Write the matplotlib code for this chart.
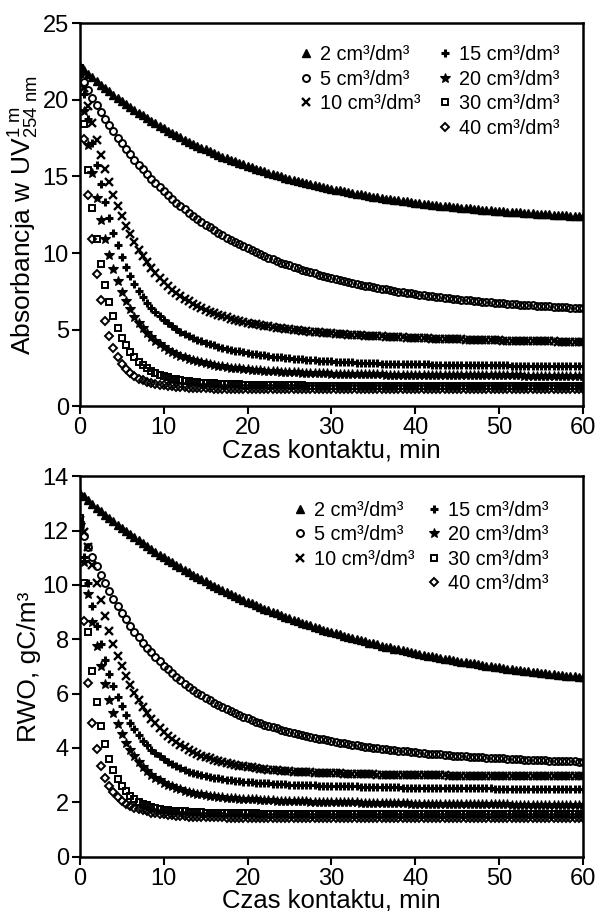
import matplotlib.pyplot as plt
from matplotlib.lines import Line2D

plt.rcParams['font.family'] = ['Liberation Sans', 'DejaVu Sans']
plt.rcParams['mathtext.fontset'] = 'custom'
plt.rcParams['mathtext.rm'] = 'Liberation Sans'
plt.rcParams['mathtext.it'] = 'Liberation Sans:italic'

# Czas kontaktu, min (pomiar co 0.5 min)
time_min = [
    0, 0.5, 1, 1.5, 2, 2.5, 3, 3.5, 4, 4.5, 5, 5.5, 6, 6.5, 7, 7.5, 8, 8.5, 9, 9.5,
    10, 10.5, 11, 11.5, 12, 12.5, 13, 13.5, 14, 14.5, 15, 15.5, 16, 16.5, 17, 17.5, 18, 18.5, 19, 19.5,
    20, 20.5, 21, 21.5, 22, 22.5, 23, 23.5, 24, 24.5, 25, 25.5, 26, 26.5, 27, 27.5, 28, 28.5, 29, 29.5,
    30, 30.5, 31, 31.5, 32, 32.5, 33, 33.5, 34, 34.5, 35, 35.5, 36, 36.5, 37, 37.5, 38, 38.5, 39, 39.5,
    40, 40.5, 41, 41.5, 42, 42.5, 43, 43.5, 44, 44.5, 45, 45.5, 46, 46.5, 47, 47.5, 48, 48.5, 49, 49.5,
    50, 50.5, 51, 51.5, 52, 52.5, 53, 53.5, 54, 54.5, 55, 55.5, 56, 56.5, 57, 57.5, 58, 58.5, 59, 59.5,
    60]

doses = ['2 cm³/dm³', '5 cm³/dm³', '10 cm³/dm³', '15 cm³/dm³',
         '20 cm³/dm³', '30 cm³/dm³', '40 cm³/dm³']

# Absorbancja w UV 254 nm (1 m)
abs_2 = [
    22.20, 21.95, 21.70, 21.46, 21.22, 20.99, 20.77, 20.55, 20.33, 20.12,
    19.92, 19.72, 19.53, 19.34, 19.16, 18.98, 18.80, 18.63, 18.47, 18.31,
    18.15, 17.99, 17.84, 17.70, 17.55, 17.41, 17.28, 17.14, 17.01, 16.89,
    16.77, 16.65, 16.53, 16.41, 16.30, 16.19, 16.09, 15.98, 15.88, 15.79,
    15.69, 15.60, 15.50, 15.42, 15.33, 15.24, 15.16, 15.08, 15.00, 14.93,
    14.85, 14.78, 14.71, 14.64, 14.57, 14.50, 14.44, 14.38, 14.32, 14.26,
    14.20, 14.14, 14.09, 14.03, 13.98, 13.93, 13.88, 13.83, 13.78, 13.74,
    13.69, 13.65, 13.60, 13.56, 13.52, 13.48, 13.44, 13.40, 13.37, 13.33,
    13.29, 13.26, 13.23, 13.19, 13.16, 13.13, 13.10, 13.07, 13.04, 13.01,
    12.99, 12.96, 12.93, 12.91, 12.88, 12.86, 12.83, 12.81, 12.79, 12.77,
    12.75, 12.72, 12.70, 12.69, 12.67, 12.65, 12.63, 12.61, 12.59, 12.58,
    12.56, 12.54, 12.53, 12.51, 12.50, 12.48, 12.47, 12.45, 12.44, 12.43,
    12.41]
abs_5 = [
    21.70, 21.16, 20.65, 20.15, 19.67, 19.22, 18.77, 18.35, 17.94, 17.54,
    17.16, 16.80, 16.44, 16.10, 15.77, 15.46, 15.15, 14.86, 14.57, 14.30,
    14.04, 13.78, 13.54, 13.30, 13.07, 12.85, 12.64, 12.43, 12.23, 12.04,
    11.85, 11.67, 11.50, 11.33, 11.17, 11.01, 10.86, 10.72, 10.57, 10.44,
    10.30, 10.18, 10.05, 9.93, 9.81, 9.70, 9.59, 9.49, 9.38, 9.28,
    9.19, 9.09, 9.00, 8.92, 8.83, 8.75, 8.67, 8.59, 8.52, 8.45,
    8.37, 8.31, 8.24, 8.18, 8.11, 8.05, 7.99, 7.94, 7.88, 7.83,
    7.78, 7.72, 7.68, 7.63, 7.58, 7.54, 7.49, 7.45, 7.41, 7.37,
    7.33, 7.29, 7.25, 7.22, 7.18, 7.15, 7.12, 7.08, 7.05, 7.02,
    6.99, 6.97, 6.94, 6.91, 6.88, 6.86, 6.83, 6.81, 6.79, 6.76,
    6.74, 6.72, 6.70, 6.68, 6.66, 6.64, 6.62, 6.60, 6.58, 6.57,
    6.55, 6.53, 6.52, 6.50, 6.48, 6.47, 6.46, 6.44, 6.43, 6.41,
    6.40]
abs_10 = [
    22.00, 20.77, 19.59, 18.46, 17.39, 16.40, 15.47, 14.61, 13.81, 13.09,
    12.41, 11.79, 11.23, 10.71, 10.23, 9.80, 9.40, 9.03, 8.70, 8.39,
    8.11, 7.86, 7.62, 7.40, 7.20, 7.02, 6.85, 6.69, 6.55, 6.42,
    6.29, 6.18, 6.08, 5.98, 5.89, 5.80, 5.72, 5.65, 5.58, 5.52,
    5.46, 5.40, 5.35, 5.30, 5.25, 5.21, 5.17, 5.13, 5.09, 5.05,
    5.02, 4.99, 4.96, 4.93, 4.90, 4.88, 4.85, 4.83, 4.80, 4.78,
    4.76, 4.74, 4.72, 4.70, 4.68, 4.67, 4.65, 4.63, 4.62, 4.60,
    4.59, 4.57, 4.56, 4.55, 4.53, 4.52, 4.51, 4.50, 4.48, 4.47,
    4.46, 4.45, 4.44, 4.43, 4.42, 4.41, 4.40, 4.39, 4.38, 4.38,
    4.37, 4.36, 4.35, 4.34, 4.34, 4.33, 4.32, 4.32, 4.31, 4.30,
    4.30, 4.29, 4.28, 4.28, 4.27, 4.27, 4.26, 4.26, 4.25, 4.25,
    4.24, 4.24, 4.23, 4.23, 4.22, 4.22, 4.22, 4.21, 4.21, 4.20,
    4.20]
abs_15 = [
    22.03, 20.35, 18.72, 17.18, 15.76, 14.48, 13.31, 12.27, 11.34, 10.51,
    9.77, 9.11, 8.53, 8.01, 7.55, 7.13, 6.76, 6.44, 6.14, 5.87,
    5.63, 5.41, 5.21, 5.04, 4.87, 4.72, 4.59, 4.46, 4.35, 4.24,
    4.15, 4.06, 3.97, 3.90, 3.82, 3.76, 3.69, 3.64, 3.58, 3.53,
    3.48, 3.44, 3.39, 3.35, 3.32, 3.28, 3.25, 3.22, 3.19, 3.16,
    3.13, 3.11, 3.08, 3.06, 3.04, 3.02, 3.00, 2.98, 2.96, 2.95,
    2.93, 2.91, 2.90, 2.89, 2.88, 2.86, 2.85, 2.84, 2.83, 2.82,
    2.81, 2.80, 2.79, 2.79, 2.78, 2.77, 2.76, 2.76, 2.75, 2.75,
    2.74, 2.73, 2.73, 2.73, 2.72, 2.72, 2.71, 2.71, 2.70, 2.70,
    2.70, 2.69, 2.69, 2.69, 2.68, 2.68, 2.68, 2.68, 2.67, 2.67,
    2.67, 2.67, 2.67, 2.66, 2.66, 2.66, 2.66, 2.66, 2.66, 2.66,
    2.65, 2.65, 2.65, 2.65, 2.65, 2.65, 2.65, 2.65, 2.65, 2.65,
    2.65]
abs_20 = [
    21.75, 19.25, 17.08, 15.21, 13.58, 12.17, 10.95, 9.89, 8.96, 8.16,
    7.46, 6.85, 6.32, 5.86, 5.45, 5.09, 4.78, 4.50, 4.26, 4.05,
    3.86, 3.69, 3.54, 3.41, 3.29, 3.19, 3.09, 3.01, 2.93, 2.86,
    2.80, 2.75, 2.69, 2.65, 2.61, 2.57, 2.53, 2.50, 2.47, 2.44,
    2.42, 2.39, 2.37, 2.35, 2.33, 2.31, 2.29, 2.28, 2.26, 2.25,
    2.24, 2.22, 2.21, 2.20, 2.19, 2.18, 2.17, 2.16, 2.15, 2.15,
    2.14, 2.13, 2.12, 2.12, 2.11, 2.11, 2.10, 2.10, 2.09, 2.09,
    2.08, 2.08, 2.08, 2.07, 2.07, 2.06, 2.06, 2.06, 2.06, 2.05,
    2.05, 2.05, 2.05, 2.04, 2.04, 2.04, 2.04, 2.04, 2.03, 2.03,
    2.03, 2.03, 2.03, 2.03, 2.03, 2.02, 2.02, 2.02, 2.02, 2.02,
    2.02, 2.02, 2.02, 2.02, 2.02, 2.02, 2.01, 2.01, 2.01, 2.01,
    2.01, 2.01, 2.01, 2.01, 2.01, 2.01, 2.01, 2.01, 2.01, 2.01,
    2.01]
abs_30 = [
    22.10, 18.44, 15.43, 12.97, 10.94, 9.28, 7.92, 6.80, 5.87, 5.12,
    4.49, 3.98, 3.55, 3.20, 2.91, 2.67, 2.48, 2.31, 2.17, 2.06,
    1.96, 1.88, 1.81, 1.76, 1.71, 1.66, 1.63, 1.60, 1.57, 1.55,
    1.53, 1.51, 1.50, 1.48, 1.47, 1.46, 1.45, 1.44, 1.43, 1.42,
    1.42, 1.41, 1.40, 1.40, 1.39, 1.38, 1.38, 1.38, 1.37, 1.37,
    1.37, 1.36, 1.36, 1.36, 1.35, 1.35, 1.35, 1.35, 1.34, 1.34,
    1.34, 1.34, 1.34, 1.33, 1.33, 1.33, 1.33, 1.33, 1.33, 1.33,
    1.32, 1.32, 1.32, 1.32, 1.32, 1.32, 1.32, 1.32, 1.32, 1.31,
    1.31, 1.31, 1.31, 1.31, 1.31, 1.31, 1.31, 1.31, 1.31, 1.31,
    1.31, 1.31, 1.31, 1.31, 1.31, 1.31, 1.31, 1.31, 1.31, 1.31,
    1.31, 1.30, 1.30, 1.30, 1.30, 1.30, 1.30, 1.30, 1.30, 1.30,
    1.30, 1.30, 1.30, 1.30, 1.30, 1.30, 1.30, 1.30, 1.30, 1.30,
    1.30]
abs_40 = [
    22.00, 17.46, 13.79, 10.90, 8.64, 6.91, 5.59, 4.58, 3.81, 3.22,
    2.77, 2.44, 2.17, 1.97, 1.81, 1.69, 1.59, 1.51, 1.45, 1.40,
    1.36, 1.33, 1.30, 1.27, 1.25, 1.24, 1.22, 1.21, 1.20, 1.19,
    1.18, 1.17, 1.16, 1.16, 1.15, 1.15, 1.14, 1.14, 1.13, 1.13,
    1.13, 1.12, 1.12, 1.12, 1.12, 1.12, 1.11, 1.11, 1.11, 1.11,
    1.11, 1.11, 1.11, 1.10, 1.10, 1.10, 1.10, 1.10, 1.10, 1.10,
    1.10, 1.10, 1.10, 1.10, 1.10, 1.10, 1.10, 1.10, 1.10, 1.10,
    1.10, 1.10, 1.10, 1.10, 1.10, 1.10, 1.10, 1.10, 1.10, 1.10,
    1.10, 1.10, 1.10, 1.10, 1.10, 1.10, 1.10, 1.10, 1.10, 1.10,
    1.10, 1.10, 1.10, 1.10, 1.10, 1.10, 1.10, 1.10, 1.10, 1.10,
    1.10, 1.10, 1.10, 1.10, 1.10, 1.10, 1.10, 1.10, 1.10, 1.10,
    1.10, 1.10, 1.10, 1.10, 1.10, 1.10, 1.10, 1.10, 1.10, 1.10,
    1.10]

# RWO, gC/m3
rwo_2 = [
    13.40, 13.26, 13.12, 12.98, 12.85, 12.72, 12.59, 12.47, 12.34, 12.22,
    12.10, 11.98, 11.87, 11.76, 11.65, 11.54, 11.43, 11.33, 11.22, 11.12,
    11.02, 10.93, 10.83, 10.74, 10.65, 10.56, 10.47, 10.38, 10.30, 10.21,
    10.13, 10.05, 9.97, 9.89, 9.82, 9.74, 9.67, 9.60, 9.53, 9.46,
    9.39, 9.32, 9.26, 9.19, 9.13, 9.07, 9.01, 8.95, 8.89, 8.83,
    8.78, 8.72, 8.67, 8.61, 8.56, 8.51, 8.46, 8.41, 8.36, 8.31,
    8.27, 8.22, 8.18, 8.13, 8.09, 8.05, 8.01, 7.96, 7.92, 7.88,
    7.85, 7.81, 7.77, 7.73, 7.70, 7.66, 7.63, 7.59, 7.56, 7.53,
    7.50, 7.46, 7.43, 7.40, 7.37, 7.34, 7.32, 7.29, 7.26, 7.23,
    7.21, 7.18, 7.15, 7.13, 7.11, 7.08, 7.06, 7.03, 7.01, 6.99,
    6.97, 6.94, 6.92, 6.90, 6.88, 6.86, 6.84, 6.82, 6.80, 6.78,
    6.77, 6.75, 6.73, 6.71, 6.70, 6.68, 6.66, 6.65, 6.63, 6.62,
    6.60]
rwo_5 = [
    12.20, 11.79, 11.41, 11.04, 10.70, 10.37, 10.06, 9.76, 9.48, 9.22,
    8.97, 8.73, 8.50, 8.28, 8.08, 7.88, 7.69, 7.52, 7.35, 7.19,
    7.03, 6.89, 6.75, 6.62, 6.49, 6.37, 6.26, 6.15, 6.04, 5.94,
    5.85, 5.75, 5.67, 5.58, 5.50, 5.43, 5.35, 5.28, 5.22, 5.15,
    5.09, 5.03, 4.97, 4.92, 4.86, 4.81, 4.76, 4.72, 4.67, 4.63,
    4.59, 4.55, 4.51, 4.47, 4.44, 4.40, 4.37, 4.34, 4.31, 4.28,
    4.25, 4.22, 4.19, 4.17, 4.14, 4.12, 4.09, 4.07, 4.05, 4.03,
    4.01, 3.99, 3.97, 3.95, 3.93, 3.92, 3.90, 3.88, 3.87, 3.85,
    3.84, 3.82, 3.81, 3.79, 3.78, 3.77, 3.76, 3.74, 3.73, 3.72,
    3.71, 3.70, 3.69, 3.68, 3.67, 3.66, 3.65, 3.64, 3.63, 3.62,
    3.61, 3.61, 3.60, 3.59, 3.58, 3.58, 3.57, 3.56, 3.56, 3.55,
    3.54, 3.54, 3.53, 3.52, 3.52, 3.51, 3.51, 3.50, 3.50, 3.49,
    3.49]
rwo_10 = [
    12.40, 11.95, 11.40, 10.75, 10.09, 9.44, 8.85, 8.32, 7.83, 7.40,
    7.00, 6.64, 6.31, 6.02, 5.75, 5.51, 5.28, 5.08, 4.90, 4.74,
    4.59, 4.45, 4.33, 4.21, 4.11, 4.02, 3.93, 3.86, 3.79, 3.72,
    3.66, 3.61, 3.56, 3.52, 3.48, 3.44, 3.41, 3.38, 3.35, 3.32,
    3.30, 3.28, 3.26, 3.24, 3.22, 3.20, 3.19, 3.18, 3.16, 3.15,
    3.14, 3.13, 3.12, 3.11, 3.11, 3.10, 3.09, 3.08, 3.08, 3.07,
    3.07, 3.06, 3.06, 3.05, 3.05, 3.04, 3.04, 3.04, 3.03, 3.03,
    3.03, 3.02, 3.02, 3.02, 3.02, 3.01, 3.01, 3.01, 3.00, 3.00,
    3.00, 2.99, 2.99, 2.99, 2.99, 2.99, 2.99, 2.99, 2.98, 2.98,
    2.98, 2.98, 2.98, 2.98, 2.98, 2.98, 2.97, 2.97, 2.97, 2.97,
    2.97, 2.97, 2.97, 2.97, 2.97, 2.97, 2.96, 2.96, 2.96, 2.96,
    2.96, 2.96, 2.96, 2.96, 2.96, 2.96, 2.96, 2.96, 2.96, 2.96,
    2.96]
rwo_15 = [
    12.09, 11.02, 10.07, 9.23, 8.49, 7.83, 7.25, 6.74, 6.29, 5.88,
    5.53, 5.21, 4.93, 4.68, 4.47, 4.27, 4.10, 3.94, 3.81, 3.69,
    3.58, 3.48, 3.39, 3.32, 3.25, 3.19, 3.13, 3.08, 3.04, 3.00,
    2.96, 2.93, 2.90, 2.88, 2.85, 2.83, 2.81, 2.79, 2.78, 2.76,
    2.75, 2.73, 2.72, 2.71, 2.70, 2.69, 2.68, 2.67, 2.67, 2.66,
    2.65, 2.65, 2.64, 2.63, 2.63, 2.62, 2.62, 2.61, 2.61, 2.60,
    2.60, 2.59, 2.59, 2.59, 2.58, 2.58, 2.58, 2.57, 2.57, 2.56,
    2.56, 2.56, 2.56, 2.55, 2.55, 2.55, 2.55, 2.54, 2.54, 2.54,
    2.54, 2.53, 2.53, 2.53, 2.53, 2.53, 2.52, 2.52, 2.52, 2.52,
    2.52, 2.52, 2.51, 2.51, 2.51, 2.51, 2.51, 2.51, 2.51, 2.50,
    2.50, 2.50, 2.50, 2.50, 2.50, 2.50, 2.50, 2.49, 2.49, 2.49,
    2.49, 2.49, 2.49, 2.49, 2.49, 2.49, 2.49, 2.48, 2.48, 2.48,
    2.48]
rwo_20 = [
    12.20, 10.83, 9.65, 8.63, 7.75, 7.00, 6.34, 5.78, 5.29, 4.87,
    4.51, 4.19, 3.92, 3.69, 3.49, 3.31, 3.15, 3.02, 2.91, 2.81,
    2.72, 2.64, 2.58, 2.52, 2.47, 2.42, 2.38, 2.35, 2.31, 2.29,
    2.26, 2.24, 2.22, 2.20, 2.19, 2.17, 2.16, 2.15, 2.13, 2.12,
    2.12, 2.11, 2.10, 2.09, 2.08, 2.08, 2.07, 2.06, 2.06, 2.05,
    2.05, 2.04, 2.04, 2.03, 2.03, 2.02, 2.02, 2.01, 2.01, 2.01,
    2.00, 2.00, 2.00, 1.99, 1.99, 1.99, 1.99, 1.98, 1.98, 1.98,
    1.97, 1.97, 1.97, 1.97, 1.96, 1.96, 1.96, 1.96, 1.96, 1.95,
    1.95, 1.95, 1.95, 1.95, 1.94, 1.94, 1.94, 1.94, 1.94, 1.93,
    1.93, 1.93, 1.93, 1.93, 1.93, 1.93, 1.92, 1.92, 1.92, 1.92,
    1.92, 1.92, 1.92, 1.91, 1.91, 1.91, 1.91, 1.91, 1.91, 1.91,
    1.91, 1.91, 1.91, 1.91, 1.91, 1.90, 1.90, 1.90, 1.90, 1.90,
    1.90]
rwo_30 = [
    12.45, 10.09, 8.25, 6.82, 5.70, 4.82, 4.14, 3.60, 3.19, 2.86,
    2.60, 2.40, 2.24, 2.12, 2.02, 1.94, 1.88, 1.83, 1.79, 1.76,
    1.73, 1.71, 1.69, 1.68, 1.67, 1.66, 1.65, 1.64, 1.63, 1.63,
    1.62, 1.62, 1.61, 1.61, 1.60, 1.60, 1.60, 1.60, 1.59, 1.59,
    1.59, 1.59, 1.59, 1.58, 1.58, 1.58, 1.58, 1.58, 1.58, 1.58,
    1.57, 1.57, 1.57, 1.57, 1.57, 1.57, 1.57, 1.57, 1.57, 1.57,
    1.56, 1.56, 1.56, 1.56, 1.56, 1.56, 1.56, 1.56, 1.56, 1.56,
    1.56, 1.56, 1.56, 1.56, 1.56, 1.56, 1.56, 1.56, 1.56, 1.56,
    1.56, 1.56, 1.56, 1.56, 1.56, 1.55, 1.55, 1.55, 1.55, 1.55,
    1.55, 1.55, 1.55, 1.55, 1.55, 1.55, 1.55, 1.55, 1.55, 1.55,
    1.55, 1.55, 1.55, 1.55, 1.55, 1.55, 1.55, 1.55, 1.55, 1.55,
    1.55, 1.55, 1.55, 1.55, 1.55, 1.55, 1.55, 1.55, 1.55, 1.55,
    1.55]
rwo_40 = [
    12.32, 8.69, 6.40, 4.93, 3.97, 3.33, 2.89, 2.58, 2.36, 2.19,
    2.06, 1.95, 1.87, 1.80, 1.75, 1.70, 1.66, 1.62, 1.60, 1.57,
    1.55, 1.53, 1.52, 1.50, 1.49, 1.48, 1.47, 1.47, 1.46, 1.45,
    1.45, 1.45, 1.44, 1.44, 1.44, 1.43, 1.43, 1.43, 1.43, 1.43,
    1.43, 1.42, 1.42, 1.42, 1.42, 1.42, 1.42, 1.42, 1.42, 1.42,
    1.42, 1.42, 1.42, 1.42, 1.42, 1.42, 1.42, 1.42, 1.42, 1.42,
    1.42, 1.42, 1.42, 1.42, 1.42, 1.42, 1.42, 1.42, 1.42, 1.42,
    1.42, 1.42, 1.42, 1.42, 1.42, 1.42, 1.42, 1.42, 1.42, 1.42,
    1.42, 1.42, 1.42, 1.42, 1.42, 1.42, 1.42, 1.42, 1.42, 1.42,
    1.42, 1.42, 1.42, 1.42, 1.42, 1.42, 1.42, 1.42, 1.42, 1.42,
    1.42, 1.42, 1.42, 1.42, 1.42, 1.42, 1.42, 1.42, 1.42, 1.42,
    1.42, 1.42, 1.42, 1.42, 1.42, 1.42, 1.42, 1.42, 1.42, 1.42,
    1.42]

# marker styles, one per dose
styles = [
    dict(marker='^', ms=5.4, mfc='black', mec='black', mew=1.0),
    dict(marker='o', ms=5.0, mfc='none', mec='black', mew=1.4),
    dict(marker='x', ms=5.4, mec='black', mew=1.7),
    dict(marker='+', ms=6.2, mec='black', mew=2.2),
    dict(marker='*', ms=7.2, mfc='black', mec='black', mew=0.8),
    dict(marker='s', ms=4.3, mfc='none', mec='black', mew=1.4),
    dict(marker='D', ms=4.3, mfc='none', mec='black', mew=1.4),
]


def draw_panel(ax, series, ymax, ystep, ylabel, leg_anchor, colsp, xlabelpad):
    handles = []
    for vals, lab, st in zip(series, doses, styles):
        h, = ax.plot(time_min, vals, linestyle='none', label=lab, **st)
        handles.append(h)
    ax.set_xlim(0, 60)
    ax.set_ylim(0, ymax)
    ax.set_xticks(range(0, 61, 10))
    ax.set_yticks(range(0, ymax + 1, ystep))
    ax.tick_params(direction='out', length=5.5, width=1.5, labelsize=17,
                   pad=2.5, top=False, right=False)
    for s in ax.spines.values():
        s.set_linewidth(1.8)
    ax.set_xlabel('Czas kontaktu, min', fontsize=18.5, labelpad=xlabelpad)
    ax.set_ylabel(ylabel, fontsize=19, labelpad=1)
    blank = Line2D([], [], linestyle='none', marker='')
    hs = handles[:3] + [blank] + handles[3:]
    ls = doses[:3] + [''] + doses[3:]
    ax.legend(hs, ls, loc='upper left', bbox_to_anchor=leg_anchor, ncol=2,
              frameon=False, fontsize=14.3, handlelength=0.8, handletextpad=0.3,
              labelspacing=0.27, columnspacing=colsp, borderpad=0,
              borderaxespad=0, markerscale=1.0)


fig = plt.figure(figsize=(5.96, 9.11), dpi=100)
ax1 = fig.add_axes([0.134, 0.554, 0.844, 0.4205])
ax2 = fig.add_axes([0.134, 0.0598, 0.844, 0.4173])

draw_panel(ax1, [abs_2, abs_5, abs_10, abs_15, abs_20, abs_30, abs_40],
           25, 5, r'Absorbancja w UV$_{\mathregular{254\ nm}}^{\mathregular{1\ m}}$',
           (0.434, 0.942), 0.85, -1)
draw_panel(ax2, [rwo_2, rwo_5, rwo_10, rwo_15, rwo_20, rwo_30, rwo_40],
           14, 2, 'RWO, gC/m³', (0.422, 0.935), 0.6, -1)

fig.savefig('out.png', dpi=100)
